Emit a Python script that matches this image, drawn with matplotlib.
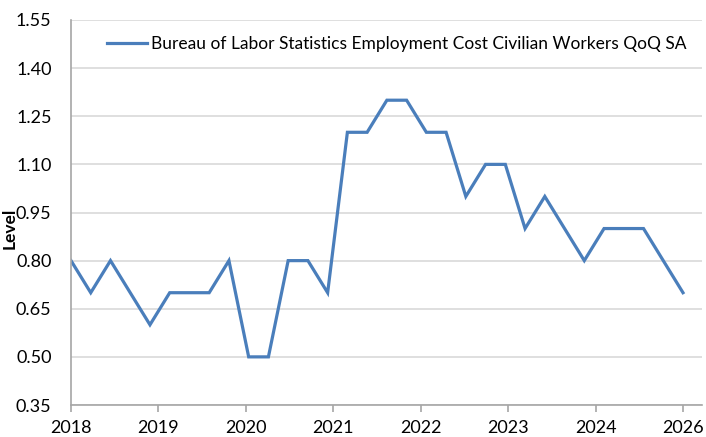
import numpy as np
import matplotlib.pyplot as plt

# ECI Civilian Workers QoQ SA, quartalsweise
values = [0.80, 0.70, 0.80, 0.70, 0.60, 0.70, 0.70, 0.70,
          0.80, 0.50, 0.50, 0.80, 0.80, 0.70, 1.20, 1.20,
          1.30, 1.30, 1.20, 1.20, 1.00, 1.10, 1.10, 0.90,
          1.00, 0.90, 0.80, 0.90, 0.90, 0.90, 0.80, 0.70]
xlabels = ['2018', '2019', '2020', '2021', '2022', '2023', '2024', '2026']
yticks = [0.35, 0.50, 0.65, 0.80, 0.95, 1.10, 1.25, 1.40, 1.55]
series_name = 'Bureau of Labor Statistics Employment Cost Civilian Workers QoQ SA'

plt.rcParams['font.family'] = ['Lato', 'DejaVu Sans']

fig = plt.figure(figsize=(7.06, 4.37), dpi=100)
ax = fig.add_axes([71/706, 1 - 405/437, (702-71)/706, (405-20)/437])

x = np.arange(len(values))
ax.plot(x, values, color='#4A7EBB', lw=2.3, label=series_name, solid_joinstyle='miter')

ax.set_ylim(0.35, 1.55)
ax.set_yticks(yticks)
ax.set_yticklabels(['%.2f' % v for v in yticks], fontsize=13)
ax.set_xlim(0, (len(values)-1) * (702-71)/(683-71))
ax.set_xticks(np.linspace(0, len(values)-1, len(xlabels)))
ax.set_xticklabels(xlabels, fontsize=13)

ax.grid(axis='y', color='#D9D9D9', lw=1.2)
ax.set_axisbelow(True)
for s in ['top', 'right']:
    ax.spines[s].set_visible(False)
for s in ['left', 'bottom']:
    ax.spines[s].set_color('#A6A6A6')
    ax.spines[s].set_linewidth(1.2)
ax.tick_params(axis='x', direction='out', length=5, color='#A6A6A6', width=1.2, pad=6)
ax.tick_params(axis='y', length=0, pad=14)

# Achsentitel manuell platzieren
fig.text(10/706, 1 - 228/437, 'Level', rotation=90, fontsize=12.5, fontweight='bold',
         ha='center', va='center')

ax.legend(loc='upper left', bbox_to_anchor=(0.033, 1.0), frameon=False,
          fontsize=12.5, handlelength=2.3, handletextpad=0.2)

fig.savefig('out.png', dpi=100)
